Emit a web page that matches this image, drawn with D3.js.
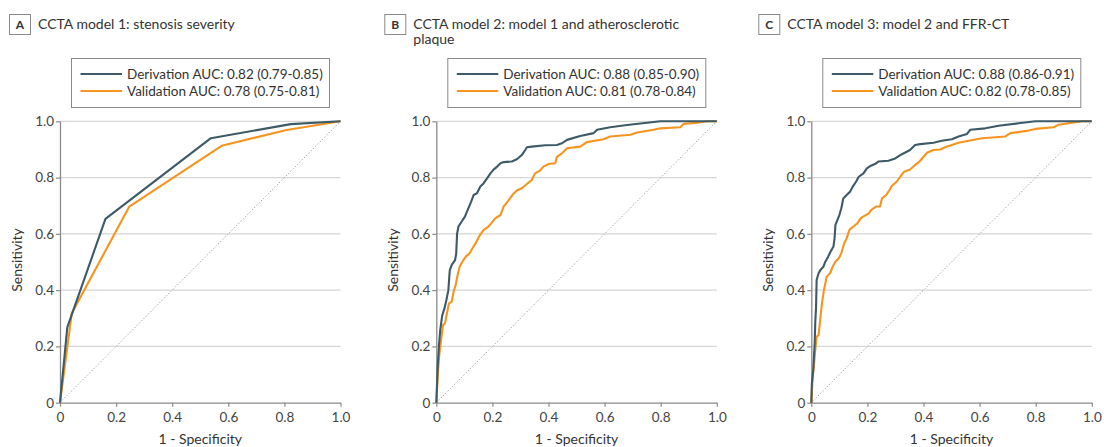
<!DOCTYPE html>
<html><head><meta charset="utf-8">
<script src="https://cdn.jsdelivr.net/npm/d3@7"></script>
<style>
html,body{margin:0;padding:0;background:#fff;}
svg{display:block;font-family:Lato,"Open Sans",sans-serif;}
</style></head>
<body><svg id="chart" width="1104" height="447"></svg>
<script>
// ---- data ----
const panelLetters = ["A", "B", "C"];
const panelTitles = [
  ["CCTA model 1: stenosis severity"],
  ["CCTA model 2: model 1 and atherosclerotic", "plaque"],
  ["CCTA model 3: model 2 and FFR-CT"]
];
const derivationLegend = ["Derivation AUC: 0.82 (0.79-0.85)", "Derivation AUC: 0.88 (0.85-0.90)", "Derivation AUC: 0.88 (0.86-0.91)"];
const validationLegend = ["Validation AUC: 0.78 (0.75-0.81)", "Validation AUC: 0.81 (0.78-0.84)", "Validation AUC: 0.82 (0.78-0.85)"];
const xTicks = [0, 0.2, 0.4, 0.6, 0.8, 1.0];
const yTicks = [0, 0.2, 0.4, 0.6, 0.8, 1.0];
const xTickLabels = ["0", "0.2", "0.4", "0.6", "0.8", "1.0"];
const yTickLabels = ["0", "0.2", "0.4", "0.6", "0.8", "1.0"];

// [1 - specificity, sensitivity]
const derivA = [[0,0],[0.026,0.268],[0.162,0.653],[0.538,0.94],[0.823,0.99],[1,1]];
const validA = [[0,0],[0.042,0.318],[0.247,0.697],[0.576,0.913],[0.808,0.969],[1,1]];

const derivB = [[0,0],[0.005,0.128],[0.01,0.21],[0.014,0.258],[0.021,0.31],[0.029,0.335],[0.036,0.365],[0.043,0.40],[0.048,0.47],[0.055,0.49],[0.067,0.507],[0.071,0.53],[0.074,0.60],[0.079,0.626],[0.09,0.643],[0.102,0.661],[0.112,0.685],[0.124,0.714],[0.133,0.738],[0.145,0.744],[0.157,0.768],[0.169,0.78],[0.181,0.797],[0.193,0.815],[0.205,0.829],[0.217,0.839],[0.229,0.851],[0.24,0.855],[0.269,0.857],[0.287,0.865],[0.305,0.88],[0.317,0.898],[0.323,0.908],[0.34,0.91],[0.388,0.915],[0.43,0.916],[0.448,0.922],[0.466,0.934],[0.513,0.948],[0.561,0.958],[0.573,0.97],[0.62,0.979],[0.68,0.987],[0.751,0.995],[0.799,1.0],[1,1]];
const validB = [[0,0],[0.005,0.092],[0.01,0.164],[0.017,0.223],[0.024,0.276],[0.031,0.282],[0.038,0.318],[0.045,0.353],[0.055,0.359],[0.062,0.395],[0.069,0.418],[0.076,0.454],[0.083,0.483],[0.093,0.501],[0.105,0.519],[0.119,0.531],[0.129,0.549],[0.14,0.566],[0.152,0.59],[0.169,0.614],[0.186,0.626],[0.198,0.64],[0.21,0.655],[0.229,0.667],[0.24,0.697],[0.257,0.718],[0.271,0.738],[0.287,0.754],[0.305,0.762],[0.323,0.777],[0.34,0.791],[0.352,0.815],[0.37,0.825],[0.382,0.839],[0.40,0.848],[0.424,0.851],[0.43,0.874],[0.448,0.886],[0.466,0.904],[0.513,0.91],[0.537,0.926],[0.596,0.936],[0.62,0.946],[0.692,0.952],[0.716,0.96],[0.775,0.97],[0.799,0.975],[0.87,0.979],[0.882,0.991],[0.93,0.995],[0.966,1.0],[1,1]];

const derivC = [[0,0],[0.002,0.069],[0.007,0.116],[0.012,0.211],[0.014,0.282],[0.017,0.341],[0.019,0.436],[0.026,0.46],[0.033,0.472],[0.043,0.483],[0.05,0.501],[0.06,0.519],[0.069,0.537],[0.079,0.555],[0.083,0.584],[0.086,0.632],[0.093,0.649],[0.1,0.667],[0.107,0.691],[0.114,0.726],[0.126,0.738],[0.138,0.75],[0.148,0.768],[0.16,0.786],[0.169,0.803],[0.186,0.815],[0.198,0.833],[0.21,0.841],[0.227,0.848],[0.239,0.857],[0.275,0.86],[0.299,0.868],[0.317,0.88],[0.335,0.889],[0.352,0.898],[0.37,0.916],[0.388,0.919],[0.436,0.924],[0.465,0.931],[0.501,0.936],[0.525,0.946],[0.555,0.955],[0.567,0.97],[0.62,0.975],[0.668,0.984],[0.739,0.993],[0.799,1.0],[1,1]];
const validC = [[0,0],[0.005,0.092],[0.01,0.14],[0.014,0.187],[0.019,0.235],[0.026,0.24],[0.033,0.306],[0.038,0.353],[0.045,0.40],[0.055,0.448],[0.067,0.46],[0.076,0.483],[0.086,0.501],[0.098,0.513],[0.107,0.531],[0.117,0.566],[0.126,0.584],[0.136,0.614],[0.15,0.626],[0.164,0.637],[0.176,0.655],[0.188,0.663],[0.205,0.673],[0.214,0.685],[0.231,0.697],[0.245,0.697],[0.252,0.726],[0.267,0.738],[0.279,0.756],[0.287,0.77],[0.305,0.786],[0.317,0.803],[0.331,0.821],[0.352,0.829],[0.37,0.845],[0.386,0.857],[0.40,0.874],[0.414,0.889],[0.436,0.898],[0.46,0.9],[0.477,0.908],[0.525,0.924],[0.561,0.931],[0.609,0.94],[0.692,0.946],[0.71,0.958],[0.775,0.967],[0.799,0.973],[0.864,0.979],[0.882,0.988],[0.93,0.995],[0.966,1.0],[1,1]];

const derivationSeries = [derivA, derivB, derivC];
const validationSeries = [validA, validB, validC];

// ---- styles / layout ----
const derivColor = "#3c5a67";
const validColor = "#f7941d";
const panelX0 = [60, 436.3, 811.3];
const plotW = 280.5, plotTop = 121.3, plotBottom = 402.7;
const letterBoxX = [9, 384.3, 758.3];

const svg = d3.select("#chart");

panelLetters.forEach((letter, i) => {
  const x = d3.scaleLinear().domain([0, 1]).range([panelX0[i], panelX0[i] + plotW]);
  const y = d3.scaleLinear().domain([0, 1]).range([plotBottom, plotTop]);
  const g = svg.append("g");

  // letter box
  g.append("rect").attr("x", letterBoxX[i] + 0.5).attr("y", 14.5).attr("width", 21).attr("height", 20)
    .attr("fill", "#fff").attr("stroke", "#8a8a8a").attr("stroke-width", 1);
  g.append("text").attr("x", letterBoxX[i] + 11).attr("y", 29).attr("text-anchor", "middle")
    .attr("font-size", 12).attr("font-weight", "bold").attr("fill", "#333").text(letter);
  // title
  panelTitles[i].forEach((t, k) => {
    g.append("text").attr("x", letterBoxX[i] + 29).attr("y", 29 + k * 15)
      .attr("font-size", 14).attr("fill", "#333").text(t);
  });

  // gridlines
  g.selectAll(".grid").data(yTicks.filter(d => d > 0)).join("line")
    .attr("x1", x(0)).attr("x2", x(1)).attr("y1", d => y(d)).attr("y2", d => y(d))
    .attr("stroke", "#d6d6d6").attr("stroke-width", 1.2);

  // axes
  const xAxis = d3.axisBottom(x).tickValues(xTicks).tickFormat((d, k) => xTickLabels[k]).tickSize(4).tickSizeOuter(0);
  const gx = g.append("g").attr("transform", `translate(0,${plotBottom})`).call(xAxis);
  const yAxis = d3.axisLeft(y).tickValues(yTicks).tickFormat((d, k) => yTickLabels[k]).tickSize(4).tickSizeOuter(0);
  const gy = g.append("g").attr("transform", `translate(${x(0)},0)`).call(yAxis);
  [gx, gy].forEach(a => {
    a.select(".domain").attr("stroke", "#8a8a8a").attr("stroke-width", 1.3);
    a.selectAll(".tick line").attr("stroke", "#8a8a8a").attr("stroke-width", 1.2);
    a.selectAll(".tick text").attr("fill", "#444").attr("font-size", 13.5).attr("font-family", "Lato, sans-serif");
  });
  gx.selectAll(".tick text").attr("dy", "0.92em");
  gy.selectAll(".tick text").attr("x", -6);

  // axis titles
  g.append("text").attr("x", x(0.5)).attr("y", 443.5).attr("text-anchor", "middle")
    .attr("font-size", 14).attr("fill", "#333").text("1 - Specificity");
  g.append("text").attr("transform", `translate(${x(0) - 38},${(plotTop + plotBottom) / 2 - 2}) rotate(-90)`)
    .attr("text-anchor", "middle").attr("font-size", 14).attr("fill", "#333").text("Sensitivity");

  // diagonal reference
  g.append("line").attr("x1", x(0)).attr("y1", y(0)).attr("x2", x(1)).attr("y2", y(1))
    .attr("stroke", "#9a9a9a").attr("stroke-width", 1).attr("stroke-dasharray", "1.2,2");

  const line = d3.line().x(d => x(d[0])).y(d => y(d[1]));
  g.append("path").datum(validationSeries[i]).attr("d", line)
    .attr("fill", "none").attr("stroke", validColor).attr("stroke-width", 2.1).attr("stroke-linejoin", "round");
  g.append("path").datum(derivationSeries[i]).attr("d", line)
    .attr("fill", "none").attr("stroke", derivColor).attr("stroke-width", 2.1).attr("stroke-linejoin", "round");

  // legend
  const lx = x(1) - 269.5, ly = 58;
  g.append("rect").attr("x", lx + 0.5).attr("y", ly + 0.5).attr("width", 258).attr("height", 49)
    .attr("fill", "#fff").attr("stroke", "#8a8a8a").attr("stroke-width", 1);
  [[derivColor, derivationLegend[i], 16], [validColor, validationLegend[i], 33]].forEach(([c, t, dy]) => {
    g.append("line").attr("x1", lx + 9.5).attr("x2", lx + 51).attr("y1", ly + dy).attr("y2", ly + dy)
      .attr("stroke", c).attr("stroke-width", 2);
    g.append("text").attr("x", lx + 56).attr("y", ly + dy + 4.7).attr("font-size", 13.5)
      .attr("fill", "#333").text(t);
  });
});
</script></body></html>
